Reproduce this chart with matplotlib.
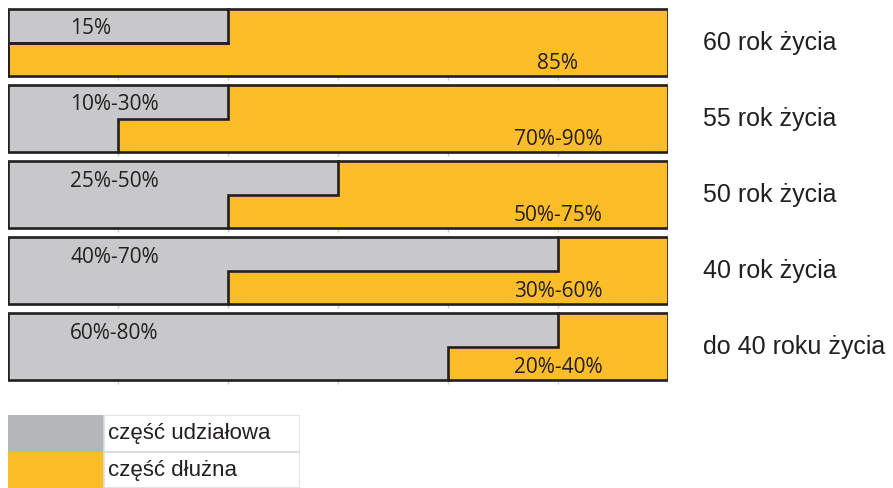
import numpy as np
import matplotlib.pyplot as plt
from matplotlib.patches import Rectangle

# rows from top to bottom
ages = ['60 rok życia', '55 rok życia', '50 rok życia', '40 rok życia',
        'do 40 roku życia']
equity_labels = ['15%', '10%-30%', '25%-50%', '40%-70%', '60%-80%']
debt_labels = ['85%', '70%-90%', '50%-75%', '30%-60%', '20%-40%']
# grey extent (in grid columns of 6) for upper and lower half of each bar
equity_upper = [2, 2, 3, 5, 5]
equity_lower = [0, 1, 2, 2, 4]
n_cols = 6

grey = '#c8c8ca'
orange = '#fdbd29'
dark = '#231f20'

W, H = 893, 488
fig = plt.figure(figsize=(W / 100, H / 100), dpi=100)

# main axes: x 0..6 -> px 8..668, rows centred at px 42.5 .. 347
top_px, bot_px = 4.5, 385.0
ax = fig.add_axes([8 / W, (H - bot_px) / H, 660 / W, (bot_px - top_px) / H])
ax.set_xlim(0, n_cols)
ax.set_ylim(len(ages) - 0.5, -0.5)
ax.axis('off')

h = 0.44
rows = np.arange(len(ages))
up = np.array(equity_upper)
lo = np.array(equity_lower)

ax.barh(rows - h / 2, up, height=h, left=0, color=grey, lw=0)
ax.barh(rows - h / 2, n_cols - up, height=h, left=up, color=orange, lw=0)
ax.barh(rows + h / 2, lo, height=h, left=0, color=grey, lw=0)
ax.barh(rows + h / 2, n_cols - lo, height=h, left=lo, color=orange, lw=0)

for i in rows:
    # outer frame
    ax.add_patch(Rectangle((0, i - h), n_cols, 2 * h, fill=False,
                           ec=dark, lw=1.9, zorder=3))
    # step border between grey and orange
    ax.plot([up[i], up[i], lo[i], lo[i]], [i - h, i, i, i + h],
            color=dark, lw=1.9, zorder=3, solid_joinstyle='miter')
    if lo[i] == 0:
        ax.plot([0, up[i]], [i, i], color=dark, lw=1.9, zorder=3)
    # small grid ticks under each bar
    ax.vlines(np.arange(1, n_cols), i + h, i + h + 0.05,
              color='#cccccc', lw=1, clip_on=False)

    ax.text(0.565, i - h / 2 + 0.04, equity_labels[i], ha='left',
            va='center', fontsize=15, color=dark, family='Open Sans')
    ax.text(5.0, i + h / 2 + 0.05, debt_labels[i], ha='center',
            va='center', fontsize=15, color=dark, family='Open Sans')
    ax.text(6.32, i, ages[i], ha='left', va='center', fontsize=18,
            color='#231f20', family='Liberation Sans', clip_on=False)

# legend table at bottom left
lax = fig.add_axes([8 / W, 0, 292 / W, 73 / H])
lax.set_xlim(0, 292)
lax.set_ylim(73, 0)
lax.axis('off')
leg_names = ['część udziałowa', 'część dłużna']
leg_colors = ['#b5b6b9', orange]
for k, (name, col) in enumerate(zip(leg_names, leg_colors)):
    y0 = k * 36.5
    lax.add_patch(Rectangle((0, y0), 96, 36.5, color=col, lw=0))
    lax.add_patch(Rectangle((96, y0), 196, 36.5, fill=False,
                            ec='#dddddd', lw=1.2))
    lax.text(100, y0 + 19, name, ha='left', va='center', fontsize=16,
             color=dark, family='Liberation Sans')

fig.savefig('out.png', dpi=100)
